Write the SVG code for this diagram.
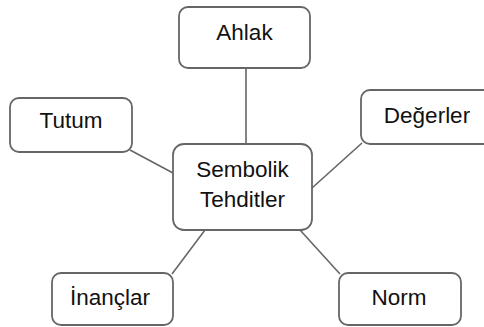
<svg xmlns="http://www.w3.org/2000/svg" width="484" height="327" viewBox="0 0 484 327">
<style>
.box{fill:#fff;stroke:#666;stroke-width:1.8}
.lbl{font-family:"Liberation Sans",Arial,sans-serif;font-size:22.5px;fill:#111;text-anchor:middle}
.con line{stroke:#666;stroke-width:1.6}
</style>
<rect width="484" height="327" fill="#fff"/>
<g class="con" id="connectors">
<line x1="246" y1="68" x2="246" y2="144"/>
<line x1="130" y1="150" x2="173" y2="173"/>
<line x1="312" y1="188" x2="362" y2="143"/>
<line x1="205" y1="230" x2="172" y2="274"/>
<line x1="300" y1="230" x2="340" y2="274"/>
</g>
<g id="ahlak"><rect class="box" x="179" y="7" width="131" height="61" rx="9"/><text class="lbl" x="244.5" y="40">Ahlak</text></g>
<g id="tutum"><rect class="box" x="10" y="98" width="122" height="54" rx="9"/><text class="lbl" x="71" y="128">Tutum</text></g>
<g id="merkez"><rect class="box" x="173" y="144" width="139" height="86" rx="11"/><text class="lbl" x="242.5" y="177">Sembolik</text><text class="lbl" x="242.5" y="207">Tehditler</text></g>
<g id="degerler"><rect class="box" x="361" y="90" width="133" height="54" rx="9"/><text class="lbl" x="427" y="123">Değerler</text></g>
<g id="inanclar"><rect class="box" x="52" y="273" width="121" height="52" rx="9"/><text class="lbl" x="110" y="305">İnançlar</text></g>
<g id="norm"><rect class="box" x="339" y="273" width="122" height="52" rx="9"/><text class="lbl" x="399" y="305">Norm</text></g>
</svg>
